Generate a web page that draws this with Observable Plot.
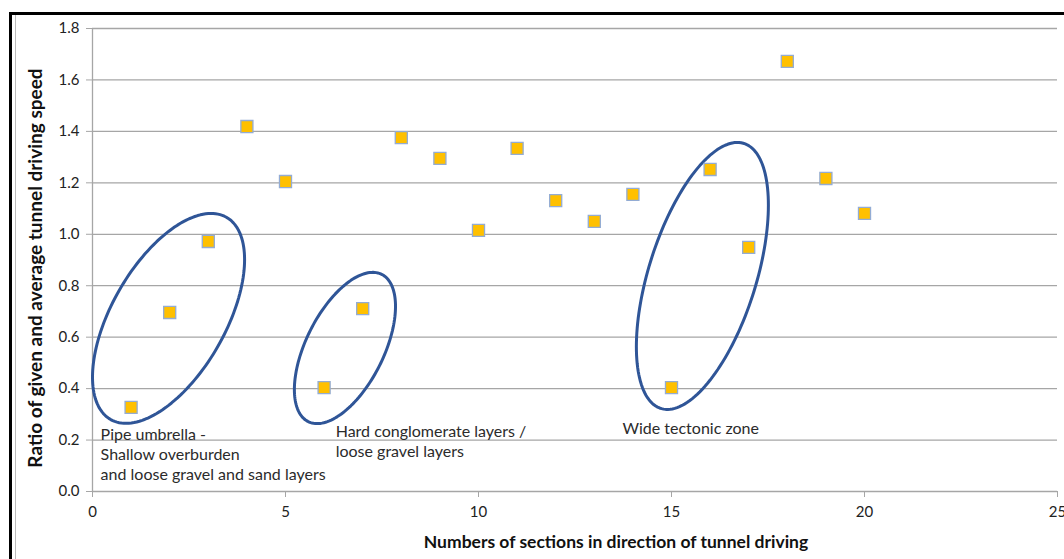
<!DOCTYPE html>
<html>
<head>
<meta charset="utf-8">
<script src="https://cdn.jsdelivr.net/npm/d3@7"></script>
<script src="https://cdn.jsdelivr.net/npm/@observablehq/plot@0.6"></script>
<style>
  html, body { margin: 0; padding: 0; background: #fff; overflow: hidden; }
  #wrap { position: relative; width: 1064px; height: 559px; }
  #frame { position: absolute; left: 9px; top: 12px; width: 1100px; height: 600px;
           border-left: 3px solid #000; border-top: 3px solid #000; box-sizing: border-box; }
  #inner { position: absolute; left: 15px; top: 15px; width: 1px; height: 600px; background: #bbb; }
  #chart { position: absolute; left: 0; top: 0; }
  svg { font-family: Lato, "Open Sans", sans-serif; }
</style>
</head>
<body>
<div id="wrap">
  <div id="frame"></div>
  <div id="inner"></div>
  <div id="chart"></div>
</div>
<script>
// Data
const sections = [1, 2, 3, 4, 5, 6, 7, 8, 9, 10, 11, 12, 13, 14, 15, 16, 17, 18, 19, 20];
const ratios = [0.327, 0.696, 0.972, 1.419, 1.205, 0.404, 0.711, 1.376, 1.295, 1.015,
                1.334, 1.131, 1.050, 1.155, 0.404, 1.252, 0.949, 1.672, 1.217, 1.081];

const xTicks = [0, 5, 10, 15, 20, 25];
const yTicks = [0, 0.2, 0.4, 0.6, 0.8, 1.0, 1.2, 1.4, 1.6, 1.8];

const xLabel = "Numbers of sections in direction of tunnel driving";
const yLabel = "Ratio of given and average tunnel driving speed";

// Annotation ellipses (data units): centre, half-extent and tilt correlation
const ellipseCx  = [1.97, 6.54, 15.80];
const ellipseCy  = [0.673, 0.558, 0.838];
const ellipseRx  = [1.97, 1.31, 1.71];
const ellipseRy  = [0.408, 0.294, 0.519];
const ellipseRho = [0.56, 0.55, 0.53];

// Annotation texts
const noteText = ["Pipe umbrella -\nShallow overburden\nand loose gravel and sand layers",
                  "Hard conglomerate layers /\nloose gravel layers",
                  "Wide tectonic zone"];
const noteX = [0.21, 6.3, 13.73];
const noteY = [0.255, 0.267, 0.277];

const points = sections.map((s, i) => ({x: s, y: ratios[i]}));

const ellipsePts = [];
ellipseCx.forEach((cx, k) => {
  const n = 160;
  for (let j = 0; j < n; j++) {
    const t = (2 * Math.PI * j) / n;
    const rho = ellipseRho[k];
    ellipsePts.push({
      id: k,
      x: cx + ellipseRx[k] * Math.cos(t),
      y: ellipseCy[k] + ellipseRy[k] * (rho * Math.cos(t) + Math.sqrt(1 - rho * rho) * Math.sin(t))
    });
  }
});

const notes = noteText.map((t, i) => ({text: t, x: noteX[i], y: noteY[i]}));

const chart = Plot.plot({
  width: 1064,
  height: 559,
  marginLeft: 92,
  marginRight: 7,
  marginTop: 28,
  marginBottom: 68,
  style: {background: "transparent", fontFamily: "Lato, 'Open Sans', sans-serif"},
  x: {domain: [0, 25], ticks: xTicks, label: null},
  y: {domain: [0, 1.8], ticks: yTicks, label: null, tickFormat: d3.format(".1f")},
  marks: [
    Plot.gridY(yTicks, {stroke: "#a6a6a6", strokeOpacity: 1, strokeWidth: 1.3}),
    Plot.ruleX([0], {stroke: "#a6a6a6", strokeWidth: 1.3}),
    Plot.axisY(yTicks, {tickSize: 6, tickPadding: 7, stroke: "#a6a6a6", fill: "#222", fontSize: 15, tickFormat: d3.format(".1f")}),
    Plot.axisX(xTicks, {tickSize: 6, tickPadding: 9, stroke: "#a6a6a6", fill: "#222", fontSize: 15}),
    Plot.line(ellipsePts, {x: "x", y: "y", z: "id", curve: "linear-closed", stroke: "#2f5597", strokeWidth: 3}),
    Plot.text(notes, {x: "x", y: "y", text: "text", textAnchor: "start", lineAnchor: "top",
                      lineHeight: 1.25, fontSize: 16, fill: "#2b2b2b"}),
    Plot.dot(points, {x: "x", y: "y", symbol: "square", r: 6.8, fill: "#ffc000", stroke: "#93acd4", strokeWidth: 1.3}),
    Plot.text([xLabel], {text: d => d, frameAnchor: "bottom", dx: 41, dy: 56, fontSize: 17.5, fontWeight: "bold", fill: "#111"}),
    Plot.text([yLabel], {text: d => d, frameAnchor: "left", textAnchor: "middle", dx: -57, dy: 8, rotate: -90, fontSize: 19, fontWeight: "bold", fill: "#111"})
  ]
});
document.getElementById("chart").appendChild(chart);
</script>
</body>
</html>
